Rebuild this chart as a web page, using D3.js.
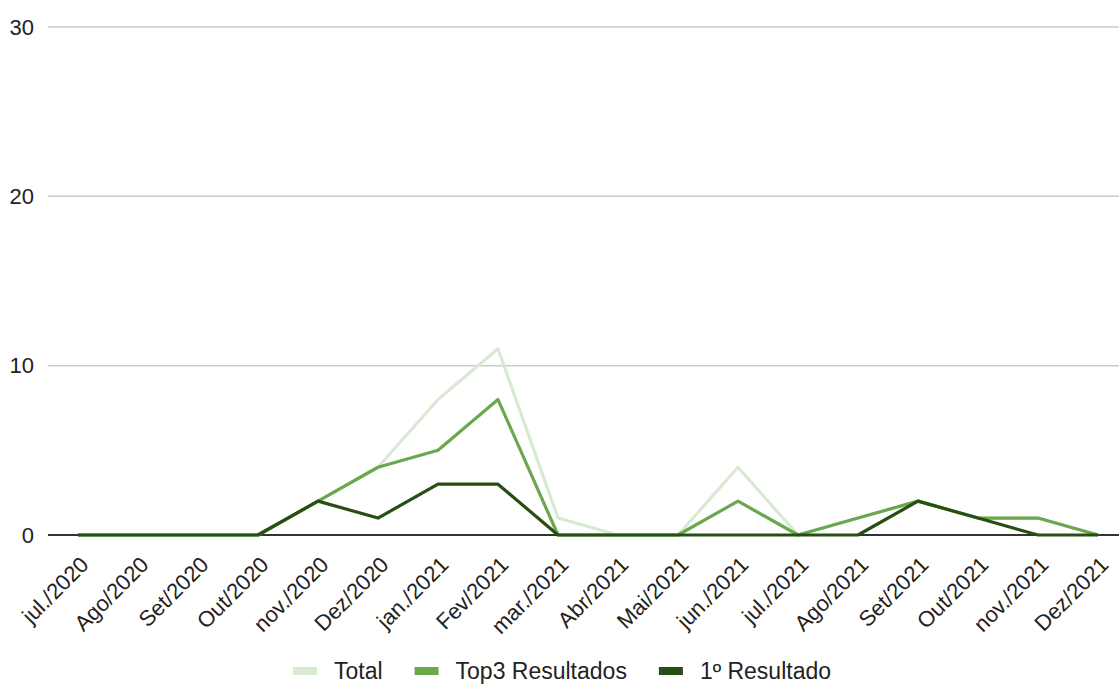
<!DOCTYPE html>
<html>
<head>
<meta charset="utf-8">
<script src="https://cdn.jsdelivr.net/npm/d3@7"></script>
<style>
  html, body { margin: 0; padding: 0; background: #fff; }
  svg { display: block; font-family: "Liberation Sans", Arial, sans-serif; }
</style>
</head>
<body>
<svg id="chart" width="1119" height="684"></svg>
<script>
// Monthly counts, July 2020 to December 2021
const months = ["jul./2020", "Ago/2020", "Set/2020", "Out/2020", "nov./2020", "Dez/2020",
  "jan./2021", "Fev/2021", "mar./2021", "Abr/2021", "Mai/2021", "jun./2021",
  "jul./2021", "Ago/2021", "Set/2021", "Out/2021", "nov./2021", "Dez/2021"];
const total = [0, 0, 0, 0, 2, 4, 8, 11, 1, 0, 0, 4, 0, 1, 2, 1, 1, 0];
const top3 = [0, 0, 0, 0, 2, 4, 5, 8, 0, 0, 0, 2, 0, 1, 2, 1, 1, 0];
const first = [0, 0, 0, 0, 2, 1, 3, 3, 0, 0, 0, 0, 0, 0, 2, 1, 0, 0];
const yTicks = [0, 10, 20, 30];
const seriesNames = ["Total", "Top3 Resultados", "1º Resultado"];
const seriesColors = ["#d9ead3", "#6aa84f", "#274e13"];

const series = [total, top3, first].map((values, i) => ({
  name: seriesNames[i], color: seriesColors[i], values
}));

const svg = d3.select("#chart");
const plotLeft = 48, plotRight = 1119;

const x = d3.scalePoint().domain(months).range([78, 1098]);
const y = d3.scaleLinear().domain([0, 30]).range([535, 27]);

// Horizontal gridlines
svg.append("g")
  .selectAll("line")
  .data(yTicks.filter(t => t !== 0))
  .join("line")
  .attr("x1", plotLeft).attr("x2", plotRight)
  .attr("y1", d => y(d)).attr("y2", d => y(d))
  .attr("stroke", "#cccccc").attr("stroke-width", 1.5);

// Y axis labels
const yAxis = d3.axisLeft(y).tickValues(yTicks).tickSize(0).tickPadding(0);
svg.append("g")
  .attr("transform", "translate(34,0)")
  .call(yAxis)
  .call(g => g.select(".domain").remove())
  .call(g => g.selectAll("text")
    .attr("font-size", 22)
    .attr("font-family", "'Liberation Sans', Arial, sans-serif")
    .attr("fill", "#222"));

// Baseline at zero
svg.append("line")
  .attr("x1", plotLeft).attr("x2", plotRight)
  .attr("y1", y(0)).attr("y2", y(0))
  .attr("stroke", "#333333").attr("stroke-width", 2);

// Series lines
const line = d3.line()
  .x((d, i) => x(months[i]))
  .y(d => y(d));

svg.append("g")
  .selectAll("path")
  .data(series)
  .join("path")
  .attr("d", d => line(d.values))
  .attr("fill", "none")
  .attr("stroke", d => d.color)
  .attr("stroke-width", 3.2)
  .attr("stroke-linejoin", "round");

// Rotated month labels
const xAxis = d3.axisBottom(x).tickSize(0).tickPadding(0);
svg.append("g")
  .call(xAxis)
  .call(g => g.select(".domain").remove())
  .call(g => g.selectAll(".tick").attr("transform", d => `translate(${x(d) + 12},566)`))
  .call(g => g.selectAll("text")
    .attr("font-size", 22)
    .attr("font-family", "'Liberation Sans', Arial, sans-serif")
    .attr("fill", "#222")
    .attr("text-anchor", "end")
    .attr("dy", 0)
    .attr("y", 0)
    .attr("transform", "rotate(-45)"));

// Legend
const legend = svg.append("g").attr("transform", "translate(0,671)");
const items = legend.selectAll("g")
  .data(series)
  .join("g");
items.append("rect")
  .attr("x", 0).attr("y", -4)
  .attr("width", 24).attr("height", 8)
  .attr("fill", d => d.color);
items.append("text")
  .attr("x", 41).attr("y", 0)
  .attr("dy", "0.34em")
  .attr("font-size", 23)
  .attr("fill", "#222")
  .text(d => d.name);

const widths = [];
items.each(function () {
  const w = this.querySelector("text").getComputedTextLength();
  widths.push(41 + w);
});
const gap = 32;
const totalW = d3.sum(widths) + gap * (widths.length - 1);
const start = 562 - totalW / 2;
items.attr("transform", (d, i) => {
  const tx = start + d3.sum(widths.slice(0, i)) + gap * i;
  return `translate(${tx},0)`;
});
</script>
</body>
</html>
